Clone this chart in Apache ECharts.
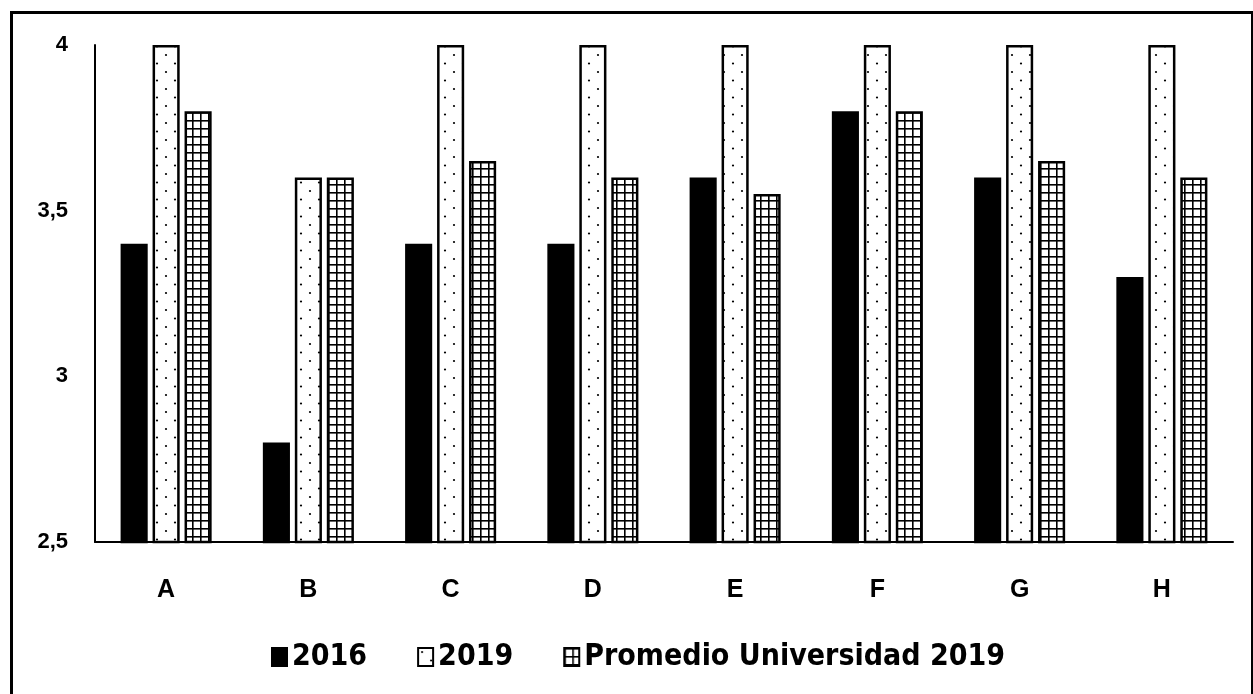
<!DOCTYPE html>
<html>
<head>
<meta charset="utf-8">
<script src="https://cdn.jsdelivr.net/npm/echarts@6/dist/echarts.min.js"></script>
<style>
  html, body { margin: 0; padding: 0; background: #fff; }
  #chart { width: 1253px; height: 694px; }
</style>
</head>
<body>
<div id="chart"></div>
<script>
// Categories and series values
const categories = ['A', 'B', 'C', 'D', 'E', 'F', 'G', 'H'];
const values2016 = [3.4, 2.8, 3.4, 3.4, 3.6, 3.8, 3.6, 3.3];
const values2019 = [4, 3.6, 4, 4, 4, 4, 4, 4];
const valuesPromedio = [3.8, 3.6, 3.65, 3.6, 3.55, 3.8, 3.65, 3.6];
const seriesNames = ['2016', '2019', 'Promedio Universidad 2019'];
const yTicks = { min: 2.5, max: 4, interval: 0.5 };

// Fill patterns: sparse dots and a fine square grid
function dotPattern() {
  const c = document.createElement('canvas');
  c.width = 18; c.height = 17;
  const g = c.getContext('2d');
  g.fillStyle = '#fff';
  g.fillRect(0, 0, 18, 17);
  g.fillStyle = '#000';
  [[4, 4], [13, 12.5]].forEach(([x, y]) => {
    g.beginPath(); g.arc(x, y, 1.1, 0, Math.PI * 2); g.fill();
  });
  return c;
}
function gridPattern() {
  const c = document.createElement('canvas');
  c.width = 8; c.height = 8;
  const g = c.getContext('2d');
  g.fillStyle = '#fff';
  g.fillRect(0, 0, 8, 8);
  g.fillStyle = '#000';
  g.fillRect(0, 0, 8, 1.6);
  g.fillRect(0, 0, 1.6, 8);
  return c;
}

const chart = echarts.init(document.getElementById('chart'), null, { renderer: 'canvas' });

const barBase = {
  type: 'bar',
  barGap: '18%',
  barCategoryGap: '36%'
};

chart.setOption({
  animation: false,
  backgroundColor: '#fff',
  grid: { left: 95, right: 20, top: 45, bottom: 152, containLabel: false },
  graphic: [{
    type: 'rect',
    shape: { x: 11.5, y: 12.5, width: 1241, height: 720 },
    style: { fill: 'none', stroke: '#000', lineWidth: 3 },
    silent: true
  }],
  legend: {
    left: 266,
    top: 637,
    itemWidth: 15,
    itemHeight: 18,
    itemGap: 50,
    textStyle: {
      fontFamily: '"Liberation Sans Narrow", "DejaVu Sans Condensed", Arial, sans-serif',
      fontWeight: 'bold',
      fontSize: 30,
      color: '#000'
    },
    data: seriesNames.map(n => ({ name: n, icon: 'rect' }))
  },
  xAxis: {
    type: 'category',
    data: categories,
    axisLine: { lineStyle: { color: '#000', width: 2 } },
    axisTick: { show: false },
    axisLabel: {
      margin: 36,
      fontFamily: 'Arial, "Liberation Sans", sans-serif',
      fontWeight: 'bold',
      fontSize: 25,
      color: '#000'
    }
  },
  yAxis: {
    type: 'value',
    min: yTicks.min,
    max: yTicks.max,
    interval: yTicks.interval,
    axisLine: { show: true, lineStyle: { color: '#000', width: 2 } },
    axisTick: { show: false },
    splitLine: { show: false },
    axisLabel: {
      margin: 27,
      fontFamily: 'Arial, "Liberation Sans", sans-serif',
      fontWeight: 'bold',
      fontSize: 22,
      color: '#000',
      formatter: v => String(v).replace('.', ',')
    }
  },
  series: [
    Object.assign({}, barBase, {
      name: seriesNames[0],
      data: values2016,
      itemStyle: { color: '#000', borderColor: '#000', borderWidth: 2.5 }
    }),
    Object.assign({}, barBase, {
      name: seriesNames[1],
      data: values2019,
      itemStyle: { color: { image: dotPattern(), repeat: 'repeat' }, borderColor: '#000', borderWidth: 2.5 }
    }),
    Object.assign({}, barBase, {
      name: seriesNames[2],
      data: valuesPromedio,
      itemStyle: { color: { image: gridPattern(), repeat: 'repeat' }, borderColor: '#000', borderWidth: 2.5 }
    })
  ]
});
</script>
</body>
</html>
